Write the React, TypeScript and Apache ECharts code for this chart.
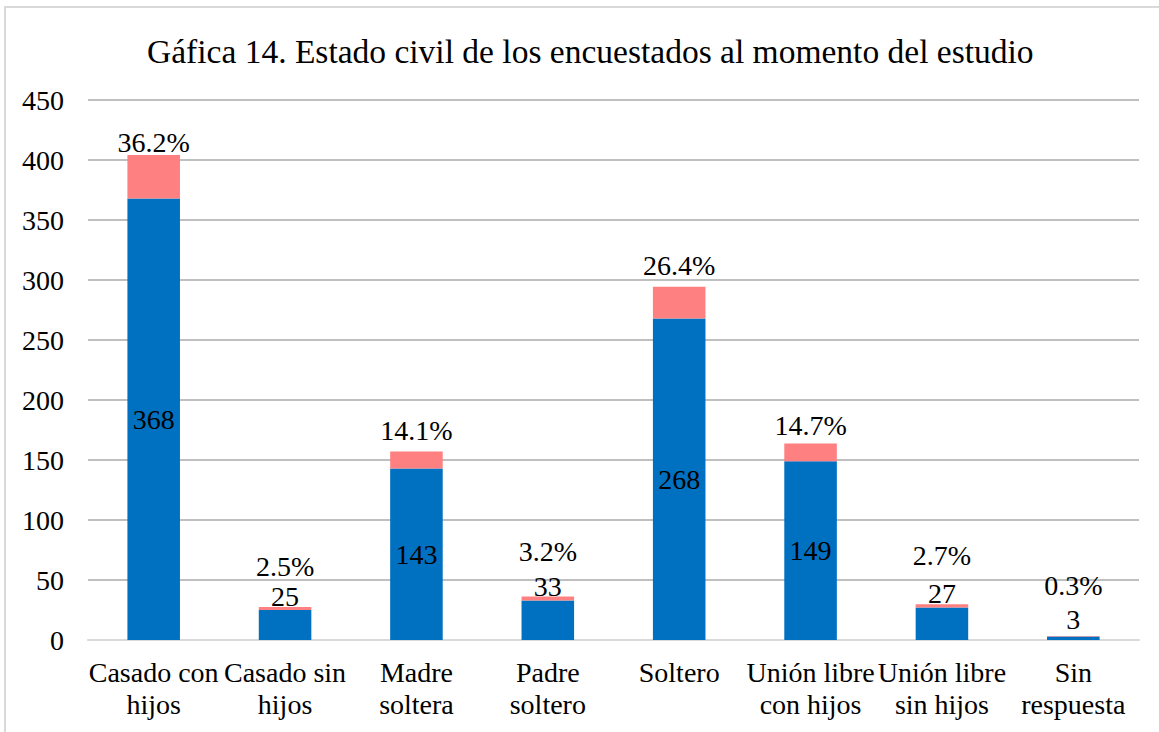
import React, { useEffect, useRef } from "react";
import * as echarts from "echarts";

const titleText = "Gáfica 14. Estado civil de los encuestados al momento del estudio";
const categories = [
  "Casado con hijos",
  "Casado sin hijos",
  "Madre soltera",
  "Padre soltero",
  "Soltero",
  "Unión libre con hijos",
  "Unión libre sin hijos",
  "Sin respuesta",
];
const categoryLabels = [
  "Casado con\nhijos",
  "Casado sin\nhijos",
  "Madre\nsoltera",
  "Padre\nsoltero",
  "Soltero",
  "Unión libre\ncon hijos",
  "Unión libre\nsin hijos",
  "Sin\nrespuesta",
];
const counts = [368, 25, 143, 33, 268, 149, 27, 3];
const percents = [36.2, 2.5, 14.1, 3.2, 26.4, 14.7, 2.7, 0.3];
const yTicks = [0, 50, 100, 150, 200, 250, 300, 350, 400, 450];

// label styling (not data)
const countLabelInside = [true, false, true, false, true, true, false, false];
const countLabelDistance = [0, 0, 0, 0, 0, 0, 0, 3];
const pctLabelDistance = [-2, 27, 7, 31, 7, 4, 35, 37];

const FONT = "'Liberation Serif', 'Times New Roman', serif";
const FS = 28;

export default function App() {
  const ref = useRef<HTMLDivElement>(null);
  useEffect(() => {
    const chart = echarts.init(ref.current!, null, { renderer: "svg" });
    const labelMap: Record<string, string> = {};
    categories.forEach((c, i) => (labelMap[c] = categoryLabels[i]));
    chart.setOption({
      animation: false,
      backgroundColor: "#ffffff",
      title: {
        text: titleText,
        left: 142,
        top: 29,
        textStyle: { fontFamily: FONT, fontSize: 33.5, fontWeight: "normal", color: "#000" },
      },
      graphic: [
        {
          type: "polyline",
          shape: { points: [[5, 740], [5, 7], [1170, 7]] },
          style: { stroke: "#D9D9D9", lineWidth: 2, fill: "none" },
          silent: true,
        },
      ],
      grid: { left: 88, right: 20, top: 100, bottom: 92, containLabel: false },
      xAxis: {
        type: "category",
        data: categories,
        axisLine: { show: true, lineStyle: { color: "#D9D9D9", width: 2 } },
        axisTick: { show: false },
        axisLabel: {
          interval: 0,
          formatter: (v: string) => labelMap[v],
          fontFamily: FONT,
          fontSize: FS,
          color: "#000",
          lineHeight: 32,
          margin: 16,
        },
      },
      yAxis: {
        type: "value",
        min: yTicks[0],
        max: yTicks[yTicks.length - 1],
        interval: 50,
        axisLine: { show: false },
        axisTick: { show: false },
        splitLine: { lineStyle: { color: "#BFBFBF", width: 2 } },
        axisLabel: { fontFamily: FONT, fontSize: FS, color: "#000", margin: 24 },
      },
      series: [
        {
          type: "bar",
          name: "Frecuencia",
          stack: "total",
          barWidth: "40%",
          itemStyle: { color: "#0070C0" },
          data: counts.map((v, i) => ({
            value: v,
            label: {
              show: true,
              position: countLabelInside[i] ? "inside" : "top",
              distance: countLabelDistance[i],
              fontFamily: FONT,
              fontSize: FS,
              color: "#000",
            },
          })),
        },
        {
          type: "bar",
          name: "Porcentaje",
          stack: "total",
          barWidth: "40%",
          itemStyle: { color: "#FF8080" },
          data: percents.map((v, i) => ({
            value: v,
            label: {
              show: true,
              position: "top",
              distance: pctLabelDistance[i],
              formatter: `${v}%`,
              fontFamily: FONT,
              fontSize: FS,
              color: "#000",
            },
          })),
        },
      ],
    });
    return () => chart.dispose();
  }, []);
  return (
    <div
      ref={ref}
      style={{ position: "absolute", left: 0, top: 0, width: 1159, height: 732 }}
    />
  );
}
